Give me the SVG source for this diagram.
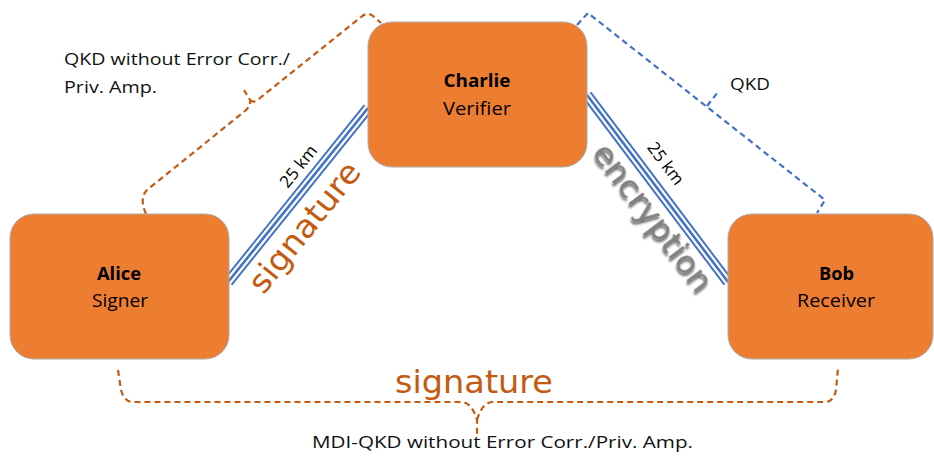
<svg xmlns="http://www.w3.org/2000/svg" width="934" height="456" viewBox="0 0 934 456">
<style>
.box{fill:#ED7D31;stroke:#ABABAB;stroke-width:1}
.lbl{font-family:"Open Sans","Liberation Sans",sans-serif;font-size:18px;fill:#000;text-anchor:middle}
.b{font-weight:bold}
.note{font-family:"Open Sans","Liberation Sans",sans-serif;font-size:17px;fill:#111}
.km{font-family:"Open Sans","Liberation Sans",sans-serif;font-size:17px;fill:#000;text-anchor:middle}
.big{font-family:"DejaVu Sans","Verdana",sans-serif;font-size:32px}
.sig{fill:#C55A11}
.enc{fill:#808080;filter:url(#sh)}
.fib1{stroke:#4472C4;stroke-width:11;fill:none}
.fib2{stroke:#fff;stroke-width:7;fill:none}
.fib3{stroke:#4472C4;stroke-width:2.6;fill:none}
.obr{stroke:#C55A11;stroke-width:2.2;fill:none;stroke-dasharray:6 4}
.bbr{stroke:#4472C4;stroke-width:2.2;fill:none;stroke-dasharray:6 4}
</style>
<defs>
<filter id="sh" x="-20%" y="-20%" width="140%" height="140%">
<feDropShadow dx="2" dy="2" stdDeviation="1.3" flood-color="#333" flood-opacity="0.75"/>
</filter>
</defs>
<g id="connectors">
<g id="fiber-left">
<line class="fib1" x1="228" y1="282" x2="368" y2="108"/>
<line class="fib2" x1="228" y1="282" x2="368" y2="108"/>
<line class="fib3" x1="228" y1="282" x2="368" y2="108"/>
</g>
<g id="fiber-right">
<line class="fib1" x1="587" y1="95" x2="728" y2="282"/>
<line class="fib2" x1="587" y1="95" x2="728" y2="282"/>
<line class="fib3" x1="587" y1="95" x2="728" y2="282"/>
</g>
<path id="brace-left" class="obr" d="M146,214 Q139,198 147,190 L245,111 Q251,106 250,100 L244,90 M250,100 Q254,104 260,98 L361,17 Q368,11 374,17 L381,23"/>
<path id="bracket-right" class="bbr" d="M577,25 L588,13 L825,200 L817,213 M707,106 L718,92"/>
<path id="brace-bottom" class="obr" d="M118,370 L121,390 Q124,401 132,402 L462,402 Q472,403 477,420 L477,434 M477,420 Q482,403 492,402 L826,402 Q834,401 836,390 L838,368"/>
<text class="km" transform="translate(303,170) rotate(-51.2)">25 km</text>
<text class="km" transform="translate(661,167) rotate(53)">25 km</text>
<text class="big sig" text-anchor="middle" textLength="158" lengthAdjust="spacingAndGlyphs" transform="translate(313,234) rotate(-51.2)">signature</text>
<text class="big enc" text-anchor="middle" textLength="177" lengthAdjust="spacingAndGlyphs" transform="translate(644,224) rotate(53)">encryption</text>
<text class="big sig" x="395" y="393" textLength="158" lengthAdjust="spacingAndGlyphs">signature</text>
<text class="note" x="64" y="65" textLength="226" lengthAdjust="spacingAndGlyphs">QKD without Error Corr./</text>
<text class="note" x="64" y="93" textLength="93" lengthAdjust="spacingAndGlyphs">Priv. Amp.</text>
<text class="note" x="730" y="90" textLength="40" lengthAdjust="spacingAndGlyphs">QKD</text>
<text class="note" x="312" y="448" textLength="381" lengthAdjust="spacingAndGlyphs">MDI-QKD without Error Corr./Priv. Amp.</text>
</g>
<g id="alice">
<rect class="box" x="10" y="214" width="219" height="145" rx="24"/>
<text class="lbl b" x="119" y="280" textLength="44" lengthAdjust="spacingAndGlyphs">Alice</text>
<text class="lbl" x="120" y="307" textLength="56" lengthAdjust="spacingAndGlyphs">Signer</text>
</g>
<g id="charlie">
<rect class="box" x="368" y="22" width="219" height="145" rx="24"/>
<text class="lbl b" x="477" y="87" textLength="67" lengthAdjust="spacingAndGlyphs">Charlie</text>
<text class="lbl" x="477" y="115" textLength="68" lengthAdjust="spacingAndGlyphs">Verifier</text>
</g>
<g id="bob">
<rect class="box" x="728" y="214" width="205" height="145" rx="24"/>
<text class="lbl b" x="836.5" y="280" textLength="35" lengthAdjust="spacingAndGlyphs">Bob</text>
<text class="lbl" x="836" y="307" textLength="78" lengthAdjust="spacingAndGlyphs">Receiver</text>
</g>
</svg>
